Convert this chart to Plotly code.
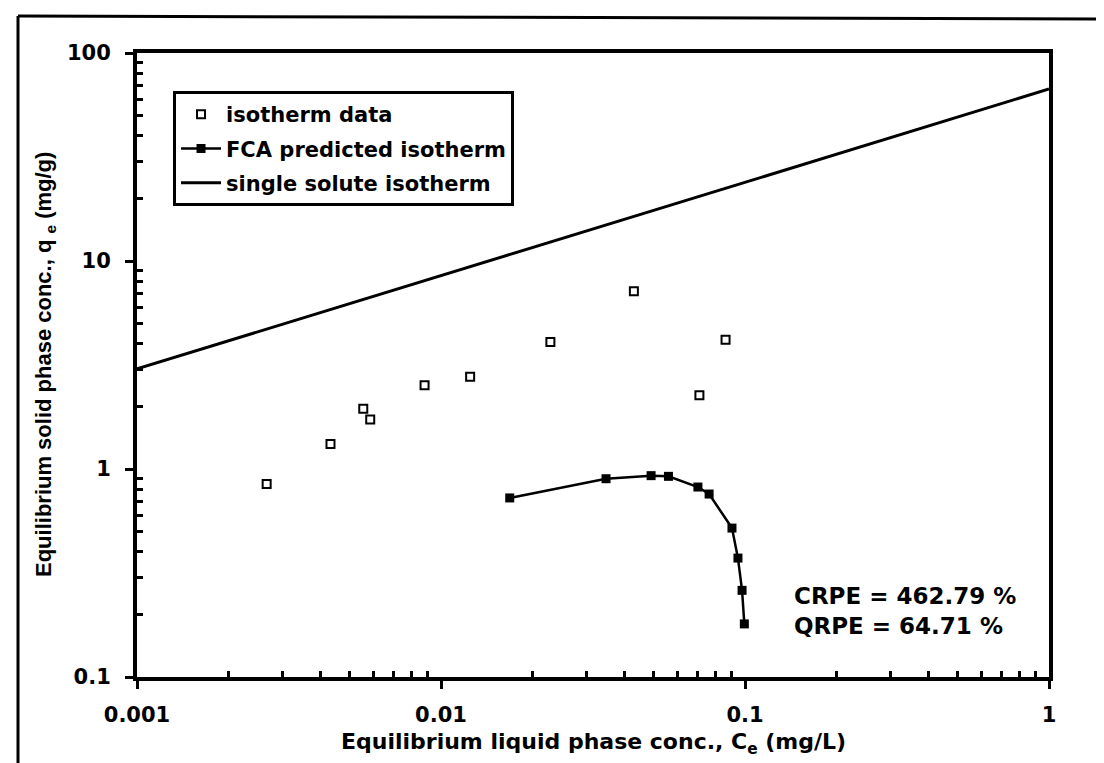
import plotly.graph_objects as go

# Data
iso_x = [0.00267, 0.00433, 0.00555, 0.00585, 0.00883, 0.01247, 0.0229, 0.0431, 0.0708, 0.0863]
iso_y = [0.847, 1.32, 1.95, 1.73, 2.53, 2.78, 4.08, 7.15, 2.26, 4.18]

fca_x = [0.01683, 0.0349, 0.0491, 0.0560, 0.0700, 0.0762, 0.0906, 0.0948, 0.0978, 0.0995]
fca_y = [0.726, 0.898, 0.929, 0.922, 0.819, 0.758, 0.520, 0.373, 0.261, 0.180]

single_x = [0.001, 1.0]
single_y = [3.03, 67.1]

x_ticks = [0.001, 0.01, 0.1, 1]
x_tick_labels = ["0.001", "0.01", "0.1", "1"]
y_ticks = [0.1, 1, 10, 100]
y_tick_labels = ["0.1", "1", "10", "100"]

WIDE = "DejaVu Sans, Verdana, sans-serif"
NARROW = "Liberation Sans, Arial, Helvetica, sans-serif"

x_minor = [m * d for d in (0.001, 0.01, 0.1) for m in range(2, 10)]
y_minor = [m * d for d in (0.1, 1, 10) for m in range(2, 10)]

fig = go.Figure()
fig.add_trace(go.Scatter(
    x=iso_x, y=iso_y, mode="markers", name="isotherm data", legendgroup="a",
    marker=dict(symbol="square-open", size=8, color="black", line=dict(width=2, color="black")),
))
fig.add_trace(go.Scatter(
    x=fca_x, y=fca_y, mode="lines+markers", name="FCA predicted isotherm", legendgroup="b",
    line=dict(color="black", width=2.5),
    marker=dict(symbol="square", size=9, color="black"),
))
fig.add_trace(go.Scatter(
    x=single_x, y=single_y, mode="lines", name="single solute isotherm", legendgroup="c",
    line=dict(color="black", width=3),
))

axis_common = dict(
    type="log", showgrid=False, zeroline=False,
    showline=True, linewidth=4, linecolor="black", mirror=True,
    ticks="outside", ticklen=8, tickwidth=3, tickcolor="black",
    tickfont=dict(family=WIDE, size=21, color="black", weight="bold"),
)

fig.update_xaxes(
    **axis_common, range=[-3, 0], tickmode="array",
    tickvals=x_ticks, ticktext=x_tick_labels, ticklabelstandoff=8,
    minor=dict(tickmode="array", tickvals=x_minor, ticks="inside",
               ticklen=6, tickwidth=3, tickcolor="black", showgrid=False),
)
fig.update_yaxes(
    **axis_common, range=[-1, 2], tickmode="array",
    tickvals=y_ticks, ticktext=y_tick_labels, ticklabelstandoff=10,
    minor=dict(tickmode="array", tickvals=y_minor, ticks="inside",
               ticklen=6, tickwidth=3, tickcolor="black", showgrid=False),
)

fig.update_layout(
    width=1104, height=763,
    margin=dict(l=129, r=63, t=45, b=94),
    paper_bgcolor="white", plot_bgcolor="white",
    font=dict(family=WIDE, color="black"),
    showlegend=True,
    legend=dict(
        x=0.0395, y=0.939, xanchor="left", yanchor="top",
        bgcolor="white", bordercolor="black", borderwidth=3,
        font=dict(family=WIDE, size=21, color="black", weight="bold"),
        itemwidth=40, tracegroupgap=4, traceorder="grouped",
    ),
)

# Outer frame (scanned page border)
frame = dict(type="line", xref="paper", yref="paper", line=dict(color="black", width=3), layer="below")
px_x = lambda v: (v - 129) / 912
px_y = lambda v: (669 - v) / 624
fig.add_shape(**frame, x0=px_x(10), x1=px_x(1104), y0=px_y(8), y1=px_y(11))
fig.add_shape(**frame, x0=px_x(10), x1=px_x(10), y0=px_y(8), y1=px_y(760))
fig.add_shape(**frame, x0=px_x(10), x1=px_x(1104), y0=px_y(760), y1=px_y(760))
fig.add_shape(type="line", xref="paper", yref="paper", layer="below",
              x0=px_x(1102), x1=px_x(1102), y0=px_y(723), y1=px_y(760),
              line=dict(color="#888888", width=2))

# Axis titles
fig.add_annotation(
    text="Equilibrium liquid phase conc., C<sub>e</sub> (mg/L)",
    xref="paper", yref="paper", x=0.5, y=px_y(735),
    xanchor="center", yanchor="middle", showarrow=False,
    font=dict(family=WIDE, size=22, color="black", weight="bold"),
)
fig.add_annotation(
    text="Equilibrium solid phase conc., q <sub>e</sub> (mg/g)",
    xref="paper", yref="paper", x=px_x(37), y=0.5,
    xanchor="center", yanchor="middle", textangle=-90, showarrow=False,
    font=dict(family=NARROW, size=22, color="black", weight="bold"),
)

# Error statistics
fig.add_annotation(
    text="CRPE = 462.79 %", xref="paper", yref="paper",
    x=px_x(784), y=px_y(588), xanchor="left", yanchor="middle",
    showarrow=False, font=dict(family=WIDE, size=23, color="black", weight="bold"),
)
fig.add_annotation(
    text="QRPE = 64.71 %", xref="paper", yref="paper",
    x=px_x(784), y=px_y(618), xanchor="left", yanchor="middle",
    showarrow=False, font=dict(family=WIDE, size=23, color="black", weight="bold"),
)

fig.write_html("out.html")
